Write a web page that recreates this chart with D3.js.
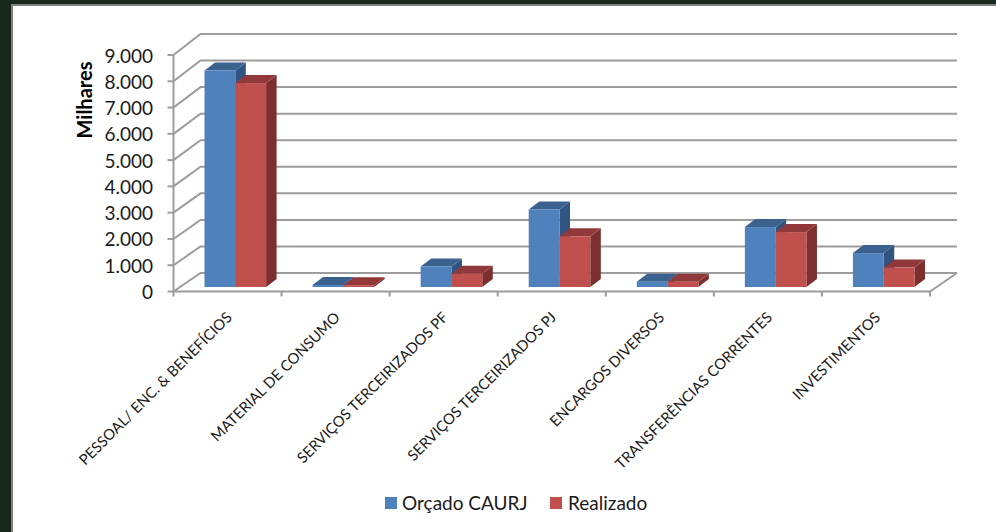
<!DOCTYPE html>
<html><head><meta charset="utf-8">
<script src="https://cdn.jsdelivr.net/npm/d3@7"></script>
<style>html,body{margin:0;padding:0;background:#16291c;overflow:hidden}svg{display:block}text{font-family:Lato,"Open Sans",sans-serif;fill:#1a1a1a}</style>
</head><body><svg id="c" width="996" height="532"></svg>
<script>
const categories=["PESSOAL/ ENC. & BENEFÍCIOS","MATERIAL DE CONSUMO","SERVIÇOS TERCEIRIZADOS PF","SERVIÇOS TERCEIRIZADOS PJ","ENCARGOS DIVERSOS","TRANSFERÊNCIAS CORRENTES","INVESTIMENTOS"];
const seriesNames=["Orçado CAURJ","Realizado"];
const orcado=[8240,80,780,2950,200,2280,1290];
const realizado=[7760,70,500,1930,200,2090,740];
const tickValues=[0,1000,2000,3000,4000,5000,6000,7000,8000,9000];
const tickLabels=["0","1.000","2.000","3.000","4.000","5.000","6.000","7.000","8.000","9.000"];
const front=["#4f81bd","#c0504d"],top_=["#3b618f","#91393a"],side=["#325480","#7c2f2e"];

const svg=d3.select("#c");
svg.append("rect").attr("x",12).attr("y",5).attr("width",990).attr("height",540).attr("fill","#fff").attr("stroke","#808080").attr("stroke-width",2);

const x=d3.scaleBand().domain(categories).range([173.5,930]);
const y=d3.scaleLinear().domain([0,9000]).range([291.5,55]);
const yBack=d3.scaleLinear().domain([0,9000]).range([273,34]);
const depth=27;
const grid="#9c9c9c";
const g=svg.append("g").attr("fill","none").attr("stroke",grid).attr("stroke-width",2);
tickValues.forEach(v=>{
  g.append("path").attr("d",d3.line()([[x.range()[0],y(v)],[x.range()[0]+depth,yBack(v)],[x.range()[1]+depth,yBack(v)]]));
  g.append("line").attr("x1",x.range()[0]-6).attr("x2",x.range()[0]).attr("y1",y(v)).attr("y2",y(v));
});
g.append("line").attr("x1",x.range()[0]).attr("x2",x.range()[0]).attr("y1",y(9000)).attr("y2",y(0));
g.append("path").attr("d",d3.line()([[x.range()[0],y(0)],[x.range()[1],y(0)],[x.range()[1]+depth,yBack(0)]]));
d3.range(categories.length+1).forEach(i=>{
  const px=x.range()[0]+i*x.step();
  g.append("line").attr("x1",px).attr("x2",px).attr("y1",y(0)).attr("y2",y(0)+5);
});

// bars
const barBase=287, pxPer=(y(0)-y(1000))/1000, bw=30.8, dx=10.5, dy=8;
const val=d3.scaleLinear().domain([0,9000]).range([barBase,barBase-9000*pxPer]);
const bars=svg.append("g");
[orcado,realizado].forEach((vals,s)=>{
  categories.forEach((c,i)=>{
    const x0=x(c)+31+s*bw, x1=x0+bw, yt=val(vals[i]);
    bars.append("path").attr("fill",side[s]).attr("d",d3.line()([[x1,yt],[x1+dx,yt-dy],[x1+dx,barBase-dy],[x1,barBase]])+"Z");
    bars.append("path").attr("fill",top_[s]).attr("d",d3.line()([[x0,yt],[x0+dx,yt-dy],[x1+dx,yt-dy],[x1,yt]])+"Z");
    bars.append("rect").attr("x",x0).attr("y",yt).attr("width",bw).attr("height",barBase-yt).attr("fill",front[s]);
  });
});

// value labels
tickValues.forEach((v,i)=>{
  svg.append("text").attr("x",153).attr("y",y(v)+7.5).attr("text-anchor","end").attr("font-size",19).text(tickLabels[i]);
});
svg.append("text").attr("transform","translate(92,100) rotate(-90)").attr("text-anchor","middle").attr("font-size",20).attr("font-weight",700).attr("style","fill:#000").text("Milhares");

// category labels
categories.forEach(c=>{
  const lx=x(c)+x.step()/2-2;
  svg.append("text").attr("transform",`translate(${lx},311) rotate(-45)`).attr("text-anchor","end").attr("dy","0.7em").attr("font-size",14.8).text(c);
});

// legend
const legendX=[385,550], legendTx=[402,568];
seriesNames.forEach((n,i)=>{
  svg.append("rect").attr("x",legendX[i]).attr("y",497).attr("width",12).attr("height",12).attr("fill",front[i]);
  svg.append("text").attr("x",legendTx[i]).attr("y",510).attr("font-size",19).text(n);
});
</script></body></html>
